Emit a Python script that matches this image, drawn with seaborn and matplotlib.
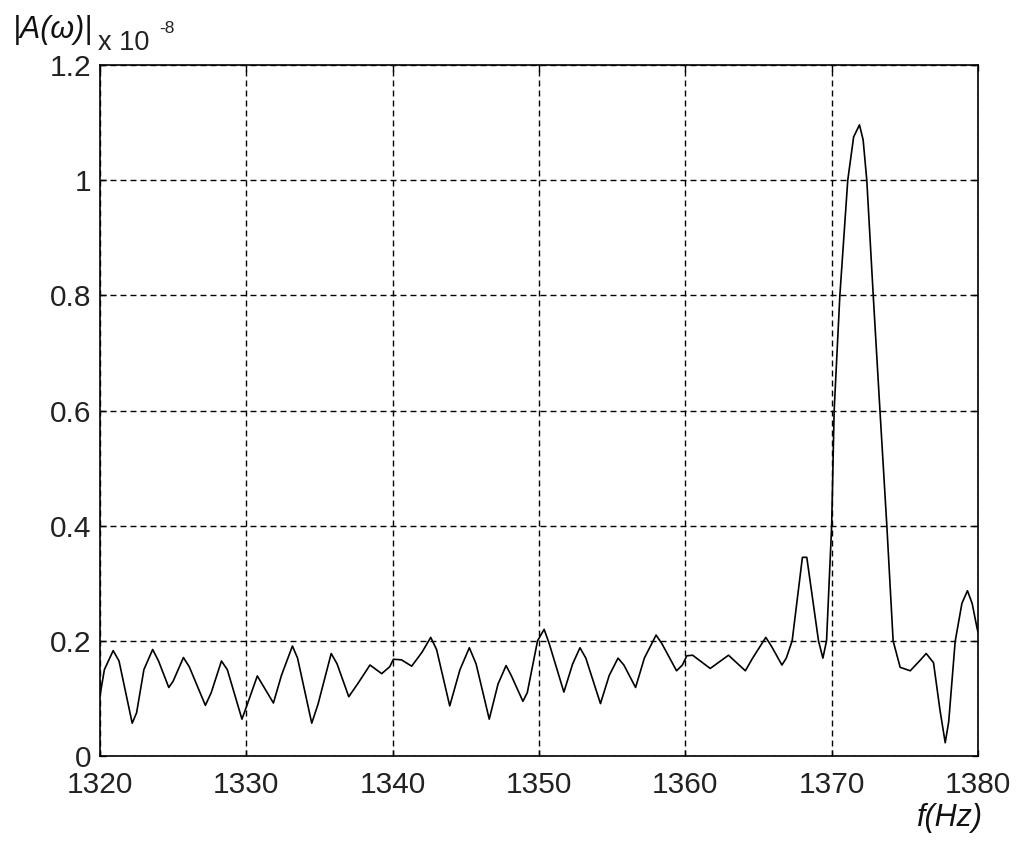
import numpy as np
import pandas as pd
import matplotlib
matplotlib.use("Agg")
import matplotlib.pyplot as plt
import seaborn as sns

# values (amplitude in units of 1e-8)
freq = [1320.0, 1320.3, 1320.9, 1321.3, 1322.2, 1322.5, 1323.0, 1323.6, 1324.0, 1324.7,
        1325.0, 1325.7, 1326.1, 1327.2, 1327.6, 1328.3, 1328.7, 1329.7, 1330.0, 1330.75,
        1331.85, 1332.4, 1333.15, 1333.5, 1334.47, 1334.9, 1335.8, 1336.2, 1337.0, 1337.6,
        1338.45, 1339.25, 1339.8, 1340.05, 1340.6, 1341.3, 1342.0, 1342.6, 1343.0, 1343.9,
        1344.6, 1345.24, 1345.7, 1346.6, 1347.2, 1347.75, 1348.1, 1348.9, 1349.2, 1349.9,
        1350.35, 1350.7, 1351.7, 1352.3, 1352.8, 1353.2, 1354.2, 1354.8, 1355.4, 1355.8,
        1356.6, 1357.2, 1358.0, 1358.4, 1359.4, 1359.8, 1360.1, 1360.5, 1361.7, 1362.95,
        1364.1, 1364.6, 1365.5, 1365.9, 1366.6, 1366.9, 1367.3, 1368.0, 1368.3, 1369.1,
        1369.4, 1369.65, 1370.0, 1370.17, 1370.56, 1371.1, 1371.5, 1371.9, 1372.15, 1372.4,
        1372.84, 1373.3, 1373.77, 1374.2, 1374.68, 1375.37, 1376.0, 1376.46, 1376.96, 1377.4,
        1377.76, 1378.0, 1378.44, 1378.9, 1379.28, 1379.6, 1379.92, 1380.0]
amp = [0.105, 0.150, 0.183, 0.165, 0.057, 0.075, 0.150, 0.185, 0.165, 0.119,
       0.130, 0.171, 0.155, 0.088, 0.110, 0.165, 0.150, 0.064, 0.085, 0.139,
       0.092, 0.140, 0.191, 0.170, 0.057, 0.090, 0.178, 0.160, 0.103, 0.125,
       0.158, 0.143, 0.155, 0.168, 0.167, 0.156, 0.180, 0.206, 0.185, 0.087,
       0.150, 0.188, 0.160, 0.064, 0.125, 0.157, 0.140, 0.095, 0.110, 0.200,
       0.220, 0.195, 0.111, 0.160, 0.188, 0.170, 0.091, 0.140, 0.170, 0.158,
       0.119, 0.170, 0.210, 0.195, 0.148, 0.158, 0.174, 0.175, 0.152, 0.175,
       0.148, 0.170, 0.206, 0.190, 0.158, 0.170, 0.200, 0.345, 0.345, 0.200,
       0.170, 0.200, 0.400, 0.600, 0.800, 1.000, 1.075, 1.096, 1.070, 1.000,
       0.800, 0.600, 0.400, 0.200, 0.154, 0.148, 0.165, 0.178, 0.162, 0.080,
       0.023, 0.060, 0.199, 0.265, 0.287, 0.265, 0.224, 0.215]

xticks = [1320, 1330, 1340, 1350, 1360, 1370, 1380]
yticks = [0, 0.2, 0.4, 0.6, 0.8, 1, 1.2]
ytick_labels = ["0", "0.2", "0.4", "0.6", "0.8", "1", "1.2"]

df = pd.DataFrame({"f": freq, "A": amp})

sns.set_style("white")
plt.rcParams["font.family"] = ["Liberation Sans", "DejaVu Sans"]

W, H = 1017, 843
fig = plt.figure(figsize=(W / 100, H / 100), dpi=100)
ax = fig.add_axes([100 / W, 1 - 756 / H, 878 / W, 691 / H])

sns.lineplot(data=df, x="f", y="A", color="black", linewidth=1.2, sort=False,
             estimator=None, ax=ax)

ax.set_xlim(1320, 1380)
ax.set_ylim(0, 1.2)
ax.set_xticks(xticks)
ax.set_yticks(yticks)
ax.set_yticklabels(ytick_labels)
ax.set_xlabel("")
ax.set_ylabel("")
ax.grid(True, color="black", linestyle=(0, (4.3, 2.9)), linewidth=1.0)
ax.tick_params(direction="in", length=4, width=1, colors="black", labelcolor="#222222",
               labelsize=21.5, top=True, right=True, bottom=True, left=True)
ax.tick_params(axis="x", pad=11)
ax.tick_params(axis="y", pad=6)
# lift the bottom y label a little, as in the reference
ax.get_yticklabels()[0].set_verticalalignment("center_baseline")
for s in ax.spines.values():
    s.set_color("black")
    s.set_linewidth(1.2)
    s.set_visible(True)

fig.text(13 / W, 1 - 30 / H, "|A(\u03c9)|", fontsize=22, style="italic",
         va="center", ha="left", color="#111111")
fig.text(98 / W, 1 - 50 / H, "x 10", fontsize=19.5, va="baseline", ha="left",
         color="#222222")
fig.text(159 / W, 1 - 33 / H, "-8", fontsize=12.5, va="baseline", ha="left",
         color="#222222")
fig.text(950 / W, 1 - 818 / H, "f(Hz)", fontsize=22, style="italic",
         va="center", ha="center", color="#111111")

fig.savefig("out.png", dpi=100)
